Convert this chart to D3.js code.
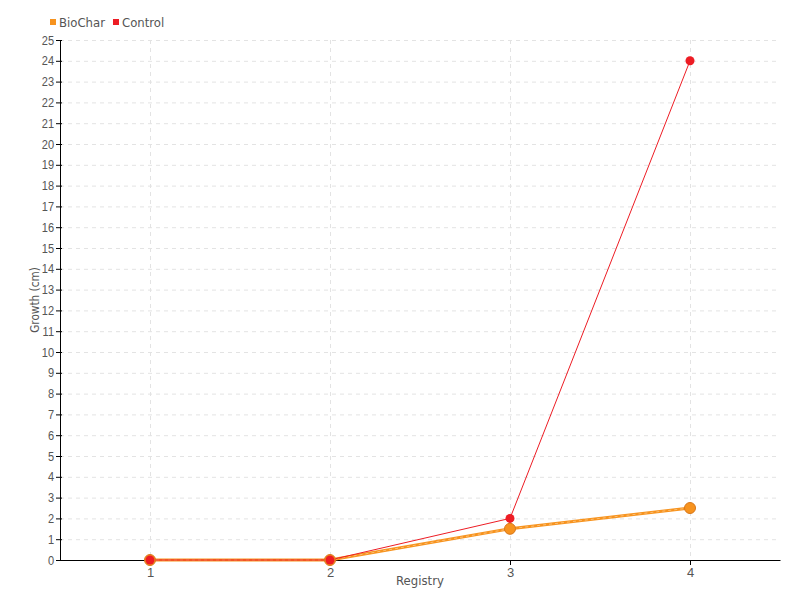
<html>
<head>
    <title>Growth</title>
    <script src="https://d3js.org/d3.v7.min.js"></script>
    <style>
        body { margin: 0; background: #fff; }
        svg { font-family: "DejaVu Sans Condensed", sans-serif; }
        .axis path, .axis line { stroke: #000; }
        .axis text { fill: #555; font-size: 13px; }
        .grid line { stroke: #e3e3e3; stroke-dasharray: 4,4; }
        .grid path { display: none; }
        .label { fill: #555; font-size: 13px; }
    </style>
</head>
<body>
<div id="chart"></div>
<script>
    var registry = [1, 2, 3, 4];
    var bioChar = [0, 0, 1.5, 2.5];
    var control = [0, 0, 2, 24];
    var yTicks = d3.range(0, 26);

    var series = [
        { name: "BioChar", values: bioChar, color: "#f7931e", stroke: "#d8771a", width: 3, r: 5.5 },
        { name: "Control", values: control, color: "#ed1c24", stroke: "none", width: 1, r: 4.5 }
    ];

    var width = 800, height = 600;
    var mLeft = 60, mRight = 780, mTop = 40, mBottom = 560;

    var x = d3.scaleLinear().domain([0.5, 4.5]).range([mLeft, mRight]);
    var y = d3.scaleLinear().domain([0, 25]).range([mBottom, mTop]);

    var svg = d3.select("#chart").append("svg")
        .attr("width", width)
        .attr("height", height);

    /* grid */
    svg.append("g")
        .attr("class", "grid")
        .attr("transform", `translate(${mLeft},0)`)
        .call(d3.axisLeft(y).tickValues(yTicks.slice(1)).tickSize(-(mRight - mLeft)).tickFormat(""));

    svg.append("g")
        .attr("class", "grid")
        .attr("transform", `translate(0,${mTop})`)
        .call(d3.axisBottom(x).tickValues(registry).tickSize(mBottom - mTop).tickFormat(""));

    /* axes */
    svg.append("g")
        .attr("class", "axis")
        .attr("transform", `translate(0,${mBottom})`)
        .call(d3.axisBottom(x).tickValues(registry).tickSize(5).tickSizeOuter(0).tickFormat(d3.format("d")));

    var yAxis = svg.append("g")
        .attr("class", "axis")
        .attr("transform", `translate(${mLeft},0)`)
        .call(d3.axisLeft(y).tickValues(yTicks).tickSize(4).tickSizeOuter(0).tickPadding(3));
    yAxis.selectAll(".tick line").attr("x2", -4).attr("x1", 2);
    yAxis.selectAll(".tick text").attr("transform", "scale(0.85,1)");

    /* lines */
    var line = d3.line()
        .x((d, i) => x(registry[i]))
        .y(d => y(d));

    series.forEach(function(s) {
        svg.append("path")
            .attr("d", line(s.values))
            .attr("fill", "none")
            .attr("stroke", s.color)
            .attr("stroke-width", s.width);
        if (s.width > 1) {
            svg.append("path")
                .attr("d", line(s.values))
                .attr("fill", "none")
                .attr("stroke", "#fbc98a")
                .attr("stroke-width", 0.8)
                .attr("stroke-dasharray", "3,3");
        }
    });

    series.forEach(function(s) {
        svg.append("g")
            .selectAll("circle")
            .data(s.values).enter()
            .append("circle")
            .attr("cx", (d, i) => x(registry[i]))
            .attr("cy", d => y(d))
            .attr("r", s.r)
            .attr("fill", s.color)
            .attr("stroke", s.stroke)
            .attr("stroke-width", 1);
    });

    /* axis titles */
    svg.append("text")
        .attr("class", "label")
        .attr("x", (mLeft + mRight) / 2)
        .attr("y", 585)
        .attr("text-anchor", "middle")
        .text("Registry");

    svg.append("text")
        .attr("class", "label")
        .attr("transform", `translate(39,${(mTop + mBottom) / 2}) rotate(-90) scale(0.9,1)`)
        .attr("text-anchor", "middle")
        .text("Growth (cm)");

    /* legend */
    var legend = svg.append("g").attr("transform", "translate(50,22)");
    var lx = 0;
    series.forEach(function(s) {
        var g = legend.append("g").attr("transform", `translate(${lx},0)`);
        g.append("rect").attr("x", 0).attr("y", -3).attr("width", 6).attr("height", 6).attr("fill", s.color);
        var t = g.append("text").attr("class", "label").attr("x", 9).attr("y", 0).attr("dy", "0.35em").text(s.name);
        lx += 9 + t.node().getComputedTextLength() + 8;
    });
</script>
</body>
</html>
